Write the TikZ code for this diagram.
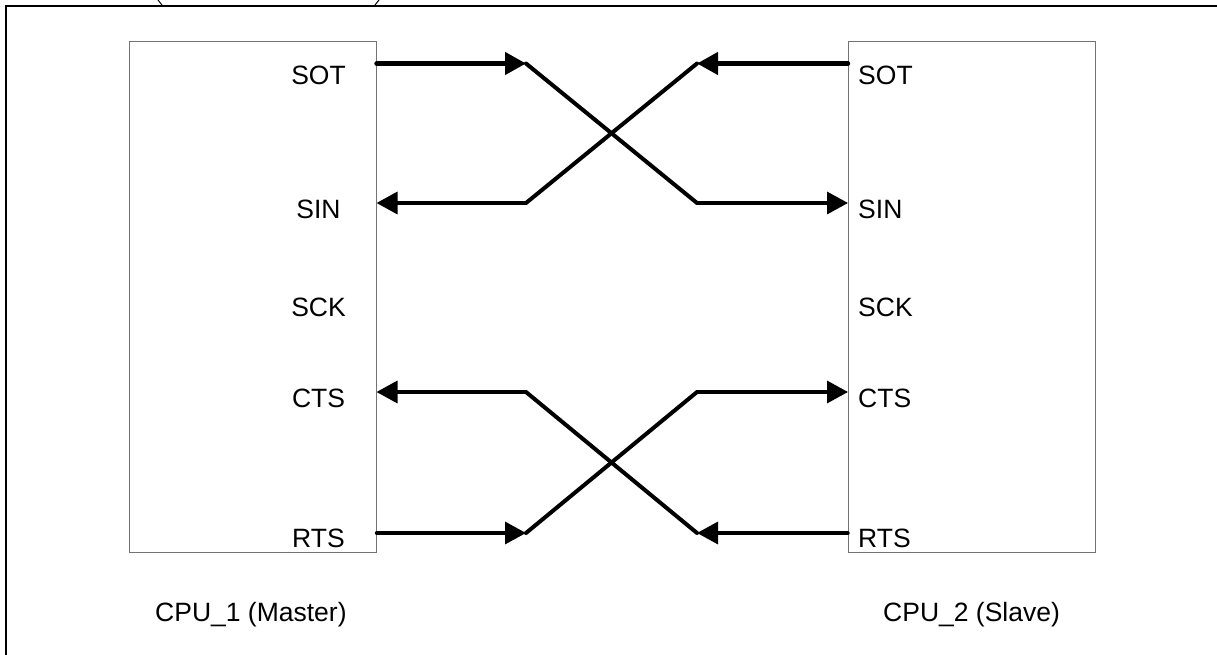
\documentclass[tikz,border=0pt]{standalone}
\usepackage{fontspec}
\setmainfont{Liberation Sans}
\usetikzlibrary{arrows.meta}
\tikzset{
  cpubox/.style={draw=black!55,line width=1pt,minimum width=247pt,minimum height=510pt,inner sep=0pt},
  pinlabel/.style={font=\fontsize{26.5}{30}\selectfont,inner sep=0pt},
  signal/.style={line width=3.4pt,line cap=round,-{Triangle[length=21pt,width=22pt]}},
  thicksignal/.style={signal,line width=4.4pt},
  wire/.style={line width=4pt,line cap=round}
}

\begin{document}
\begin{tikzpicture}[x=1pt,y=-1pt]

    \useasboundingbox (0,0) rectangle (1217,655);

    % outer frame, only top and left are on the page
    \draw[line width=2.2pt] (6,655) -- (6,6) -- (1217,6);

    % cut off brackets at the top edge
    \draw[line width=1pt] (158,0) -- (162,5);
    \draw[line width=1pt] (379,0) -- (375,5);

    % cpu boxes
    \node[cpubox] (cpua) at (252.5,297) {};
    \node[cpubox] (cpub) at (971.5,297) {};

    % pin labels
    \foreach \name/\y in {SOT/75.5,SIN/209.5,SCK/307,CTS/398,RTS/538} {
      \node[pinlabel] (a\name) at (318.5,\y) {\name};
      \node[pinlabel,anchor=west] (b\name) at (858,\y) {\name};
    }

    % cpu captions
    \node[pinlabel,anchor=west] (capa) at (155,615) {CPU\_1 (Master)};
    \node[pinlabel,anchor=west] (capb) at (883,615) {CPU\_2 (Slave)};

    % pins on the box edges
    \foreach \name/\y in {SOT/63.5,SIN/203,CTS/392,RTS/533} {
      \coordinate (pa\name) at (376.5,\y);
      \coordinate (pb\name) at (848,\y);
    }

    % knees of the crossed lines
    \foreach \name/\y in {SOT/63.5,SIN/203,CTS/392,RTS/533} {
      \coordinate (ka\name) at (526,\y);
      \coordinate (kb\name) at (697,\y);
    }

    % upper crossing
    \draw[thicksignal] (paSOT) -- (kaSOT);
    \draw[wire] (kaSOT) -- (kbSIN);
    \draw[signal] (kbSIN) -- (pbSIN);
    \draw[thicksignal] (pbSOT) -- (kbSOT);
    \draw[wire] (kbSOT) -- (kaSIN);
    \draw[signal] (kaSIN) -- (paSIN);

    % lower crossing
    \draw[signal] (paRTS) -- (kaRTS);
    \draw[wire] (kaRTS) -- (kbCTS);
    \draw[signal] (kbCTS) -- (pbCTS);
    \draw[signal] (pbRTS) -- (kbRTS);
    \draw[wire] (kbRTS) -- (kaCTS);
    \draw[signal] (kaCTS) -- (paCTS);

\end{tikzpicture}
\end{document}
